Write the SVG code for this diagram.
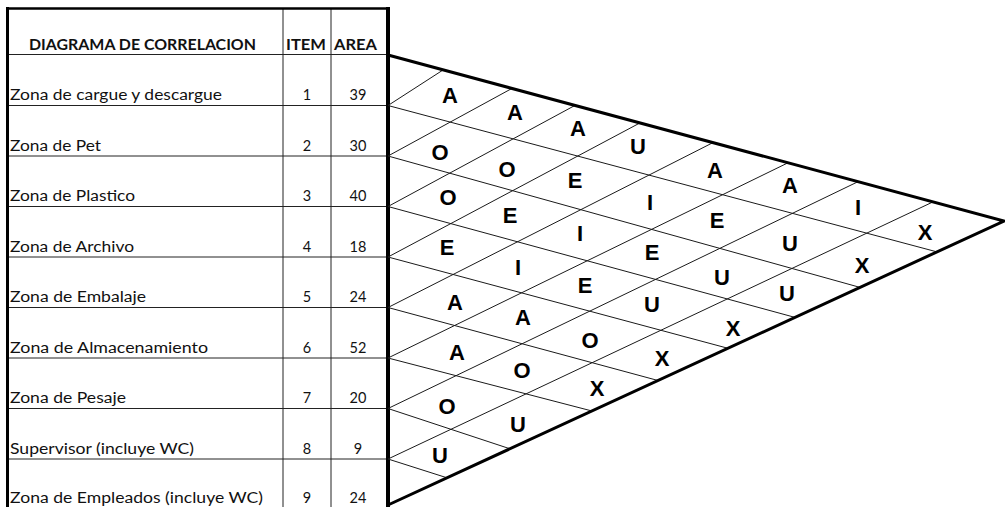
<svg xmlns="http://www.w3.org/2000/svg" width="1005" height="507" viewBox="0 0 1005 507">
<style>
.t{font-family:Lato,"Liberation Sans",sans-serif;font-size:14.5px;fill:#111}
.h{font-family:Lato,"Liberation Sans",sans-serif;font-size:14.5px;font-weight:bold;fill:#111;text-anchor:middle}
.n{font-family:Lato,"Liberation Sans",sans-serif;font-size:14.5px;fill:#111;text-anchor:middle}
.g{stroke:#1a1a1a;stroke-width:1;fill:none}
.thin{stroke:#222;stroke-width:1}
.thick{stroke:#000;fill:none}
.L{font-family:"Liberation Sans",Arial,sans-serif;font-size:22px;font-weight:bold;fill:#000;text-anchor:middle}
</style>
<rect width="1005" height="507" fill="#fff"/>
<g id="table-grid">
<line class="thin" x1="8" y1="54.5" x2="388" y2="54.5" stroke-width="1.5"/>
<line class="thin" x1="8" y1="105.5" x2="388" y2="105.5"/>
<line class="thin" x1="8" y1="156" x2="388" y2="156"/>
<line class="thin" x1="8" y1="206.5" x2="388" y2="206.5"/>
<line class="thin" x1="8" y1="257" x2="388" y2="257"/>
<line class="thin" x1="8" y1="307.5" x2="388" y2="307.5"/>
<line class="thin" x1="8" y1="358" x2="388" y2="358"/>
<line class="thin" x1="8" y1="408.5" x2="388" y2="408.5"/>
<line class="thin" x1="8" y1="459" x2="388" y2="459"/>
<line class="thin" x1="283" y1="8" x2="283" y2="507"/>
<line class="thin" x1="331" y1="8" x2="331" y2="507"/>
<line class="thick" x1="7.5" y1="7" x2="7.5" y2="507" stroke-width="3"/>
<line class="thick" x1="6" y1="8.5" x2="390" y2="8.5" stroke-width="2.5"/>
<line class="thick" x1="388" y1="7" x2="388" y2="507" stroke-width="4"/>
</g>
<g id="header">
<text class="h" x="142.5" y="49.5" textLength="227" lengthAdjust="spacingAndGlyphs">DIAGRAMA DE CORRELACION</text>
<text class="h" x="306" y="49.5" textLength="40" lengthAdjust="spacingAndGlyphs">ITEM</text>
<text class="h" x="355.5" y="49.5" textLength="43" lengthAdjust="spacingAndGlyphs">AREA</text>
</g>
<g id="row1"><text class="t" x="10" y="100" textLength="212" lengthAdjust="spacingAndGlyphs">Zona de cargue y descargue</text><text class="n" x="307" y="100">1</text><text class="n" x="358" y="100">39</text></g>
<g id="row2"><text class="t" x="10" y="150.5" textLength="91" lengthAdjust="spacingAndGlyphs">Zona de Pet</text><text class="n" x="307" y="150.5">2</text><text class="n" x="358" y="150.5">30</text></g>
<g id="row3"><text class="t" x="10" y="201" textLength="125" lengthAdjust="spacingAndGlyphs">Zona de Plastico</text><text class="n" x="307" y="201">3</text><text class="n" x="358" y="201">40</text></g>
<g id="row4"><text class="t" x="10" y="251.5" textLength="124" lengthAdjust="spacingAndGlyphs">Zona de Archivo</text><text class="n" x="307" y="251.5">4</text><text class="n" x="358" y="251.5">18</text></g>
<g id="row5"><text class="t" x="10" y="302" textLength="136" lengthAdjust="spacingAndGlyphs">Zona de Embalaje</text><text class="n" x="307" y="302">5</text><text class="n" x="358" y="302">24</text></g>
<g id="row6"><text class="t" x="10" y="352.5" textLength="198" lengthAdjust="spacingAndGlyphs">Zona de Almacenamiento</text><text class="n" x="307" y="352.5">6</text><text class="n" x="358" y="352.5">52</text></g>
<g id="row7"><text class="t" x="10" y="403" textLength="116" lengthAdjust="spacingAndGlyphs">Zona de Pesaje</text><text class="n" x="307" y="403">7</text><text class="n" x="358" y="403">20</text></g>
<g id="row8"><text class="t" x="10" y="453.5" textLength="184" lengthAdjust="spacingAndGlyphs">Supervisor (incluye WC)</text><text class="n" x="307" y="453.5">8</text><text class="n" x="358" y="453.5">9</text></g>
<g id="row9"><text class="t" x="10" y="502.5" textLength="253" lengthAdjust="spacingAndGlyphs">Zona de Empleados (incluye WC)</text><text class="n" x="307" y="502.5">9</text><text class="n" x="358" y="502.5">24</text></g>
<g id="connectors">
<line class="g" x1="388" y1="105.5" x2="443" y2="70"/>
<line class="g" x1="388" y1="156" x2="512" y2="88.4"/>
<line class="g" x1="388" y1="206.5" x2="575" y2="105.4"/>
<line class="g" x1="388" y1="257" x2="640" y2="122.9"/>
<line class="g" x1="388" y1="307.5" x2="713" y2="142.6"/>
<line class="g" x1="388" y1="358" x2="788" y2="162.8"/>
<line class="g" x1="388" y1="408.5" x2="858" y2="181.7"/>
<line class="g" x1="388" y1="459" x2="933" y2="201.9"/>
<line class="g" x1="388" y1="105.5" x2="937" y2="251.9"/>
<line class="g" x1="388" y1="156" x2="860" y2="287.4"/>
<line class="g" x1="388" y1="206.5" x2="795" y2="317.4"/>
<line class="g" x1="388" y1="257" x2="728" y2="348.3"/>
<line class="g" x1="388" y1="307.5" x2="658" y2="380.5"/>
<line class="g" x1="388" y1="358" x2="592" y2="411"/>
<line class="g" x1="388" y1="408.5" x2="510" y2="448.8"/>
<line class="g" x1="388" y1="459" x2="447" y2="477.8"/>
<polyline class="thick" stroke-width="3" stroke-linejoin="miter" points="388,55 1004,221 388,505"/>
</g>
<g id="cells" transform="translate(0,0.5)">
<text class="L" x="450" y="102.5">A</text>
<text class="L" x="515" y="119.5">A</text>
<text class="L" x="578" y="135.5">A</text>
<text class="L" x="638" y="153.5">U</text>
<text class="L" x="715" y="177.5">A</text>
<text class="L" x="790" y="192.5">A</text>
<text class="L" x="858" y="214.5">I</text>
<text class="L" x="925" y="239.5">X</text>
<text class="L" x="440" y="159.5">O</text>
<text class="L" x="507" y="176.5">O</text>
<text class="L" x="575" y="187.5">E</text>
<text class="L" x="650" y="209.5">I</text>
<text class="L" x="717" y="227.5">E</text>
<text class="L" x="790" y="250.5">U</text>
<text class="L" x="862" y="272.5">X</text>
<text class="L" x="448" y="204.5">O</text>
<text class="L" x="510" y="222.5">E</text>
<text class="L" x="580" y="240.5">I</text>
<text class="L" x="652" y="259.5">E</text>
<text class="L" x="722" y="284.5">U</text>
<text class="L" x="787" y="300.5">U</text>
<text class="L" x="447" y="254.5">E</text>
<text class="L" x="518" y="274.5">I</text>
<text class="L" x="585" y="292.5">E</text>
<text class="L" x="652" y="311.5">U</text>
<text class="L" x="733" y="335.5">X</text>
<text class="L" x="455" y="309.5">A</text>
<text class="L" x="523" y="324.5">A</text>
<text class="L" x="590" y="347.5">O</text>
<text class="L" x="662" y="365.5">X</text>
<text class="L" x="457" y="359.5">A</text>
<text class="L" x="522" y="377.5">O</text>
<text class="L" x="597" y="395.5">X</text>
<text class="L" x="447" y="413.5">O</text>
<text class="L" x="518" y="431.5">U</text>
<text class="L" x="440" y="462.5">U</text>
</g>
</svg>
